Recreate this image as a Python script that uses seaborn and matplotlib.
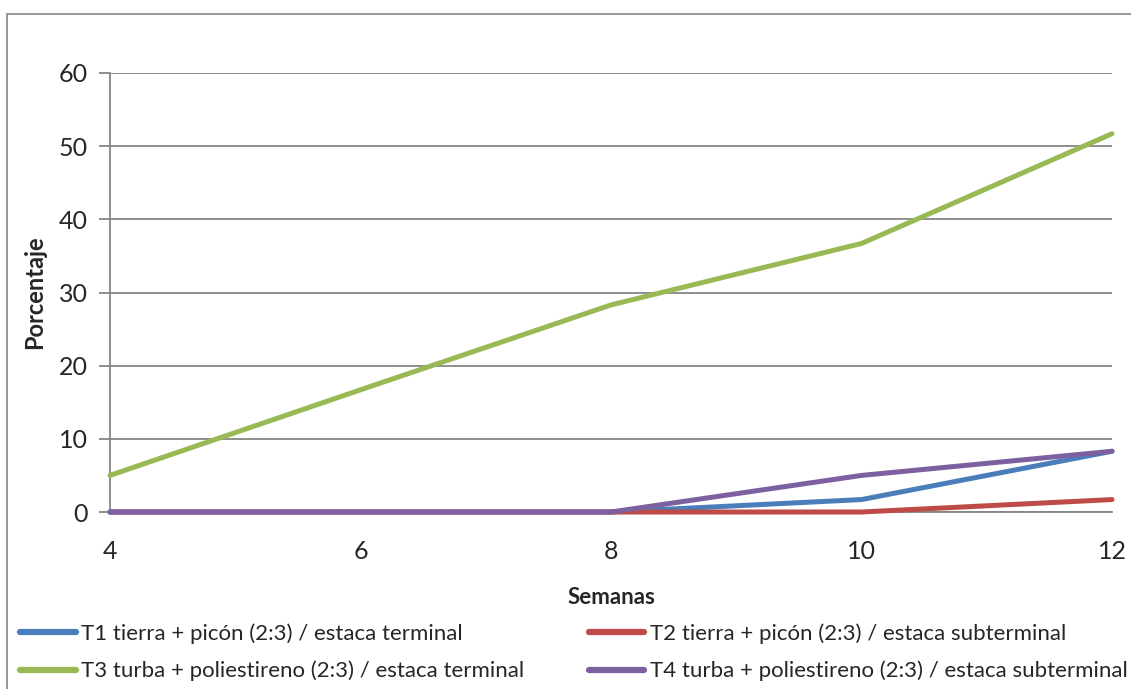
import matplotlib
matplotlib.use("Agg")
import matplotlib.pyplot as plt
import matplotlib.patches as mpatches
import seaborn as sns
import pandas as pd

# Rooting percentage per treatment over the weeks
semanas = [4, 6, 8, 10, 12]
t1 = [0, 0, 0, 1.7, 8.3]
t2 = [0, 0, 0, 0, 1.7]
t3 = [5.0, 16.7, 28.3, 36.7, 51.7]
t4 = [0, 0, 0, 5.0, 8.3]

nombres = [
    "T1 tierra + picón (2:3) / estaca terminal",
    "T2 tierra + picón (2:3) / estaca subterminal",
    "T3 turba + poliestireno (2:3) / estaca terminal",
    "T4 turba + poliestireno (2:3) / estaca subterminal",
]
colores = ["#4A7EBB", "#BE4B48", "#98B954", "#7D60A0"]

rows = []
for nombre, serie in zip(nombres, [t1, t2, t3, t4]):
    for s, v in zip(semanas, serie):
        rows.append({"Semanas": s, "Porcentaje": v, "Tratamiento": nombre})
df = pd.DataFrame(rows)

sns.set_style("white")
plt.rcParams["font.family"] = ["Lato", "DejaVu Sans"]

W, H = 1131, 689
fig = plt.figure(figsize=(W / 100, H / 100), dpi=100)
ax = fig.add_axes([110 / W, 1 - 512 / H, (1112 - 110) / W, (512 - 73) / H])

# outer chart frame
fig.patches.append(mpatches.Rectangle((7 / W, -0.1), 1.2, 1 - 14 / H + 0.1,
                                      transform=fig.transFigure, fill=False,
                                      edgecolor="#868686", linewidth=1.2, zorder=0))

sns.lineplot(data=df, x="Semanas", y="Porcentaje", hue="Tratamiento",
             hue_order=nombres, palette=colores, linewidth=3.6, ax=ax,
             legend=False, clip_on=False, zorder=3)

ax.set_xlim(4, 12)
ax.set_ylim(0, 60)
ax.set_xticks([4, 6, 8, 10, 12])
ax.set_yticks(range(0, 61, 10))
ax.yaxis.grid(True, color="#868686", linewidth=1.3)
ax.xaxis.grid(False)
for side in ["top", "right"]:
    ax.spines[side].set_visible(False)
for side in ["left", "bottom"]:
    ax.spines[side].set_color("#868686")
    ax.spines[side].set_linewidth(1.3)
ax.tick_params(axis="y", length=8, width=1.3, color="#868686", labelsize=18, pad=8, left=True)
ax.tick_params(axis="x", length=0, labelsize=18, pad=20)

ax.set_xlabel("Semanas", fontsize=16, fontweight="bold")
ax.xaxis.set_label_coords(0.5, (512 - 597) / (512 - 73), transform=ax.transAxes)
ax.xaxis.label.set_va("center")
ax.set_ylabel("Porcentaje", fontsize=17, fontweight="bold")
ax.yaxis.set_label_coords((35 - 110) / (1112 - 110), 0.5, transform=ax.transAxes)
ax.yaxis.label.set_va("center")

handles = [plt.Line2D([], [], color=c, linewidth=4.5) for c in colores]
order = [0, 2, 1, 3]
fig.legend([handles[i] for i in order], [nombres[i] for i in order],
           loc="lower left", bbox_to_anchor=(0.0, -0.018), ncol=2,
           frameon=False, fontsize=16, handlelength=2.5, handletextpad=0.25,
           columnspacing=2.9, labelspacing=0.75)

fig.savefig("out.png", dpi=100)
